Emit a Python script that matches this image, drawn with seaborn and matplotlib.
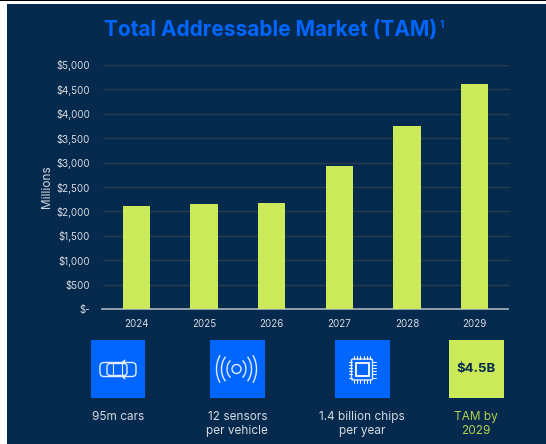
"""Total Addressable Market slide: bar chart plus a row of icon tiles."""
import matplotlib; matplotlib.use("Agg")
import numpy as np
import pandas as pd
import matplotlib.pyplot as plt
from matplotlib.patches import Rectangle, Circle, Arc, FancyBboxPatch
import seaborn as sns

years = ["2024", "2025", "2026", "2027", "2028", "2029"]
tam_millions = [2110, 2160, 2170, 2930, 3760, 4610]
y_ticks = [0, 500, 1000, 1500, 2000, 2500, 3000, 3500, 4000, 4500, 5000]
y_labels = ["$-", "$500", "$1,000", "$1,500", "$2,000", "$2,500", "$3,000",
            "$3,500", "$4,000", "$4,500", "$5,000"]
captions = ["95m cars", "12 sensors\nper vehicle", "1.4 billion chips\nper year", "TAM by\n2029"]

NAVY = "#062A4E"; BLUE = "#0066FF"; LIME = "#CBE958"; GREY = "#D5DAE0"
W, H = 546, 444

sns.set_theme(style="white")
plt.rcParams["font.family"] = ["Inter", "DejaVu Sans"]
fig = plt.figure(figsize=(W / 100, H / 100), dpi=100, facecolor="white")

# pixel-space backdrop for the slide and the tiles
bg = fig.add_axes([0, 0, 1, 1], zorder=0)
bg.set_xlim(0, W); bg.set_ylim(H, 0); bg.axis("off")
bg.add_patch(Rectangle((0, 0), W, 1.2, color="black", lw=0))
bg.add_patch(Rectangle((7, 4.5), W - 7, H - 5, color=NAVY, lw=0))
bg.text(270.5, 30, "Total Addressable Market (TAM)", color=BLUE, fontsize=15, fontweight="bold",
        ha="center", va="center")
bg.text(442, 25, "1", color=BLUE, fontsize=7, fontweight="bold", ha="center", va="center")

# bar chart
ax = fig.add_axes([102.5 / W, 1 - 309 / H, 406 / W, 244 / H], zorder=1)
ax.patch.set_alpha(0)
df = pd.DataFrame({"year": years, "tam": tam_millions})
sns.barplot(data=df, x="year", y="tam", color=LIME, saturation=1, width=0.4, ax=ax, zorder=3,
            linewidth=0, edgecolor="none")
ax.set_ylim(0, 5000)
ax.set_yticks(y_ticks, y_labels)
ax.set_xlabel("")
ax.set_ylabel("Millions", color=GREY, fontsize=8.5, labelpad=2)
ax.yaxis.grid(True, color="#2A3B4E", lw=1); ax.set_axisbelow(True)
ax.tick_params(axis="both", length=0, labelsize=7, labelcolor=GREY)
ax.tick_params(axis="y", pad=9)
ax.tick_params(axis="x", pad=7)
sns.despine(ax=ax, left=True)
ax.spines["bottom"].set_color("#A9B4C0"); ax.spines["bottom"].set_linewidth(1.2)

# tiles
tile_x = [90.5, 210, 335, 449]
tile_w = 54.5
top, bot = 340, 398
for i, x in enumerate(tile_x):
    bg.add_patch(Rectangle((x, top), tile_w, bot - top, color=LIME if i == 3 else BLUE, lw=0))
    bg.text(x + tile_w / 2, 410.5, captions[i], color="#B5D050" if i == 3 else GREY,
            fontsize=8.5, ha="center", va="top", linespacing=1.25)
bg.text(476, 369, "$4.5B", color=NAVY, fontsize=9.5, fontweight="bold", ha="center", va="center")

# car icon, seen from above
cx, cy = 118, 369.5
white = dict(fill=False, ec="#E4ECFF", lw=1)
bg.add_patch(FancyBboxPatch((cx - 18, cy - 7), 36, 14, boxstyle="round,pad=0,rounding_size=4", **white))
bg.add_patch(FancyBboxPatch((cx - 11, cy - 6), 20, 12, boxstyle="round,pad=0,rounding_size=3", **white))
bg.plot([cx - 5, cx - 5], [cy - 6, cy + 6], color="#E4ECFF", lw=0.8)
bg.plot([cx + 4, cx + 4], [cy - 6, cy + 6], color="#E4ECFF", lw=0.8)
bg.plot([cx + 4, cx + 7, cx + 6], [cy - 7, cy - 9.5, cy - 7], color="#E4ECFF", lw=0.8)
bg.plot([cx + 4, cx + 7, cx + 6], [cy + 7, cy + 9.5, cy + 7], color="#E4ECFF", lw=0.8)

# sensor icon, concentric arcs on both sides of a ring
sx, sy = 236.5, 369
bg.add_patch(Circle((sx, sy), 4.5, **white))
for r, ht, span in [(9.5, 22, 55), (15, 36, 48), (20, 48, 40)]:
    for mid in (0, 180):
        bg.add_patch(Arc((sx, sy), r * 2, ht, theta1=mid - span, theta2=mid + span, ec="#E4ECFF", lw=1))

# chip icon
px, py = 362, 369.5
bg.add_patch(FancyBboxPatch((px - 10.5, py - 10.5), 21, 21, boxstyle="round,pad=0,rounding_size=1.5", **white))
bg.add_patch(Rectangle((px - 6.5, py - 6.5), 13, 13, fill=False, ec="white", lw=1.3))
for off in np.arange(-8, 9, 3.2):
    bg.plot([px + off, px + off], [py - 13.5, py - 10.5], color="white", lw=0.7)
    bg.plot([px + off, px + off], [py + 10.5, py + 13.5], color="white", lw=0.7)
    bg.plot([px - 13.5, px - 10.5], [py + off, py + off], color="white", lw=0.7)
    bg.plot([px + 10.5, px + 13.5], [py + off, py + off], color="white", lw=0.7)

fig.savefig("out.png", dpi=100, facecolor="white")
